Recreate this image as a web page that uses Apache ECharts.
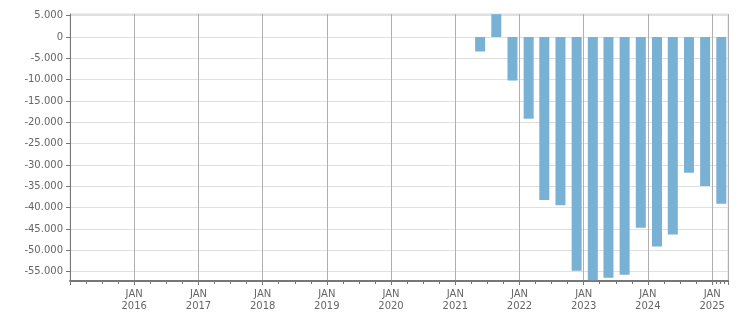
<!DOCTYPE html>
<html>
<head>
<meta charset="utf-8">
<script src="https://cdn.jsdelivr.net/npm/echarts@6/dist/echarts.min.js"></script>
<style>
html,body{margin:0;padding:0;background:#fff;}
#chart{width:751px;height:313px;}
</style>
</head>
<body>
<div id="chart"></div>
<script>
// Quarterly periods (bar positions) and values
const periods = ['2021-05-22','2021-08-22','2021-11-22','2022-02-22','2022-05-22','2022-08-22','2022-11-22',
  '2023-02-22','2023-05-22','2023-08-22','2023-11-22','2024-02-22','2024-05-22','2024-08-22','2024-11-22','2025-02-22'];
const values = [-3400, 5350, -10200, -19150, -38200, -39400, -54800,
  -57000, -56400, -55700, -44700, -49100, -46300, -31800, -34900, -39100];
const xRange = ['2015-01-01', '2025-04-01'];
const yRange = [-57180, 5390];
const monthLabel = 'JAN';

function fmt(v){
  const s = Math.abs(Math.round(v)).toString().replace(/\B(?=(\d{3})+(?!\d))/g, '.');
  return (v < 0 ? '-' : '') + s;
}

const W = 751, GL = 70, GR = 23, BAR_W = 10;
const gridW = W - GL - GR;
// ECharts widens a time axis holding bars by half a bar on each side; pre-compensate
const t0 = Date.parse(xRange[0]), t1 = Date.parse(xRange[1]);
const T = t1 - t0;
const pad = T * (BAR_W / 2) / gridW;
const DAY = 24*3600*1000;

const chart = echarts.init(document.getElementById('chart'), null, {renderer:'canvas'});
const YEAR = 365.25*DAY;
chart.setOption({
  animation:false,
  backgroundColor:'#fff',
  grid:{left:GL, right:GR, top:14, bottom:32, show:true, borderColor:'#ddd', borderWidth:1, containLabel:false},
  xAxis:{
    type:'time',
    min: t0 + pad, max: t1 - pad,
    minInterval: YEAR, maxInterval: YEAR,
    axisLine:{show:true, onZero:false, lineStyle:{color:'#777', width:2}},
    axisTick:{show:true, length:4, lineStyle:{color:'#777'}},
    minorTick:{show:true, splitNumber:4, length:3, lineStyle:{color:'#777'}},
    splitLine:{show:true, lineStyle:{color:'#b0b0b0', width:1}},
    axisLabel:{
      showMinLabel:false, showMaxLabel:false,
      color:'#666', fontFamily:'DejaVu Sans', fontSize:10, lineHeight:12, margin:7,
      formatter:function(v){
        if (v < t0 + 2*DAY || v > t1 - 2*DAY) return '';
        return monthLabel + '\n' + new Date(v).getFullYear();
      }
    }
  },
  yAxis:{
    type:'value',
    min:yRange[0], max:yRange[1],
    splitNumber:12, minInterval:5000, maxInterval:5000,
    axisLine:{show:true, lineStyle:{color:'#777', width:1}},
    axisTick:{show:true, length:4, lineStyle:{color:'#777'}},
    splitLine:{show:true, lineStyle:{color:'#e0e0e0', width:1}},
    axisLabel:{
      showMinLabel:false, showMaxLabel:false,
      color:'#666', fontFamily:'DejaVu Sans', fontSize:10, margin:7,
      formatter:fmt
    }
  },
  series:[{
    type:'bar',
    barWidth:BAR_W,
    itemStyle:{color:'#78b1d3'},
    data: periods.map((d,i)=>[d, values[i]])
  }]
});
</script>
</body>
</html>
